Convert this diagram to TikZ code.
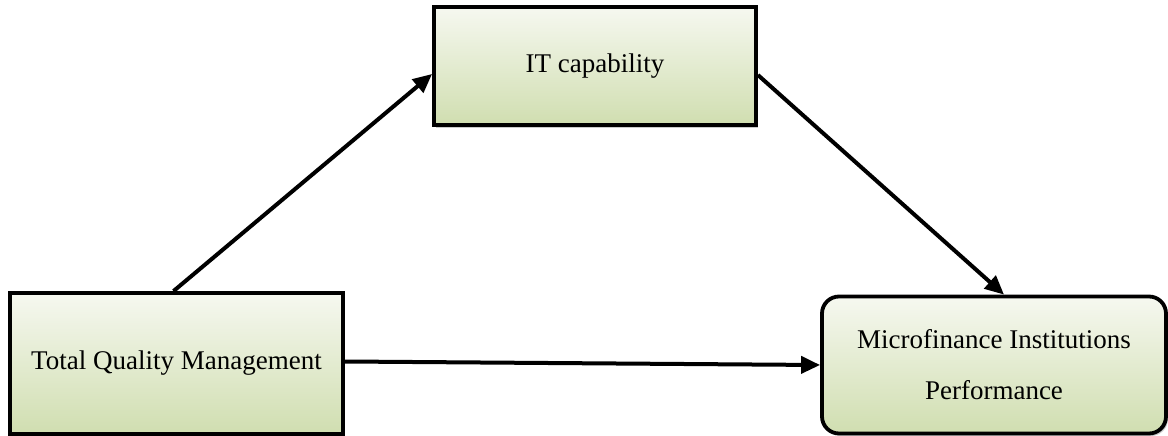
\documentclass[tikz,border=0pt]{standalone}
\usepackage{fontspec}
\setmainfont{Liberation Serif}
\usetikzlibrary{arrows.meta,shadows}

\definecolor{boxtop}{RGB}{246,248,240}
\definecolor{boxbottom}{RGB}{208,222,176}

\tikzset{every picture/.style={line width=0.75pt}}
\tikzset{
  varbox/.style={draw=black, line width=3.8pt, top color=boxtop, bottom color=boxbottom,
    drop shadow={shadow xshift=2pt, shadow yshift=-2.5pt, opacity=0.35, fill=black!60},
    font=\fontsize{27}{51}\selectfont, align=center, inner sep=2pt},
  link/.style={line width=4pt, -{Triangle[length=19pt,width=17pt]}}
}

\begin{document}
\begin{tikzpicture}[x=1pt,y=1pt,yscale=-1,xscale=1]
\useasboundingbox (0,0) rectangle (1168,436);

% Text Node
\node [varbox, minimum width=322pt, minimum height=118pt] (itc) at (595,66) {IT capability};
% Text Node
\node [varbox, minimum width=333pt, minimum height=141pt] (tqm) at (176.5,363.5) {Total Quality Management};
% Text Node
\node [varbox, rounded corners=17pt, minimum width=344pt, minimum height=137pt] (mip) at (994,365) {Microfinance Institutions\\Performance};

% Straight Lines
\draw [link] ([xshift=-3pt]tqm.north) -- ([yshift=8pt]itc.west);
% Straight Lines
\draw [link] ([yshift=9pt]itc.east) -- ([xshift=10pt]mip.north);
% Straight Lines
\draw [link] ([yshift=-2pt]tqm.east) -- (mip.west);

\end{tikzpicture}
\end{document}
